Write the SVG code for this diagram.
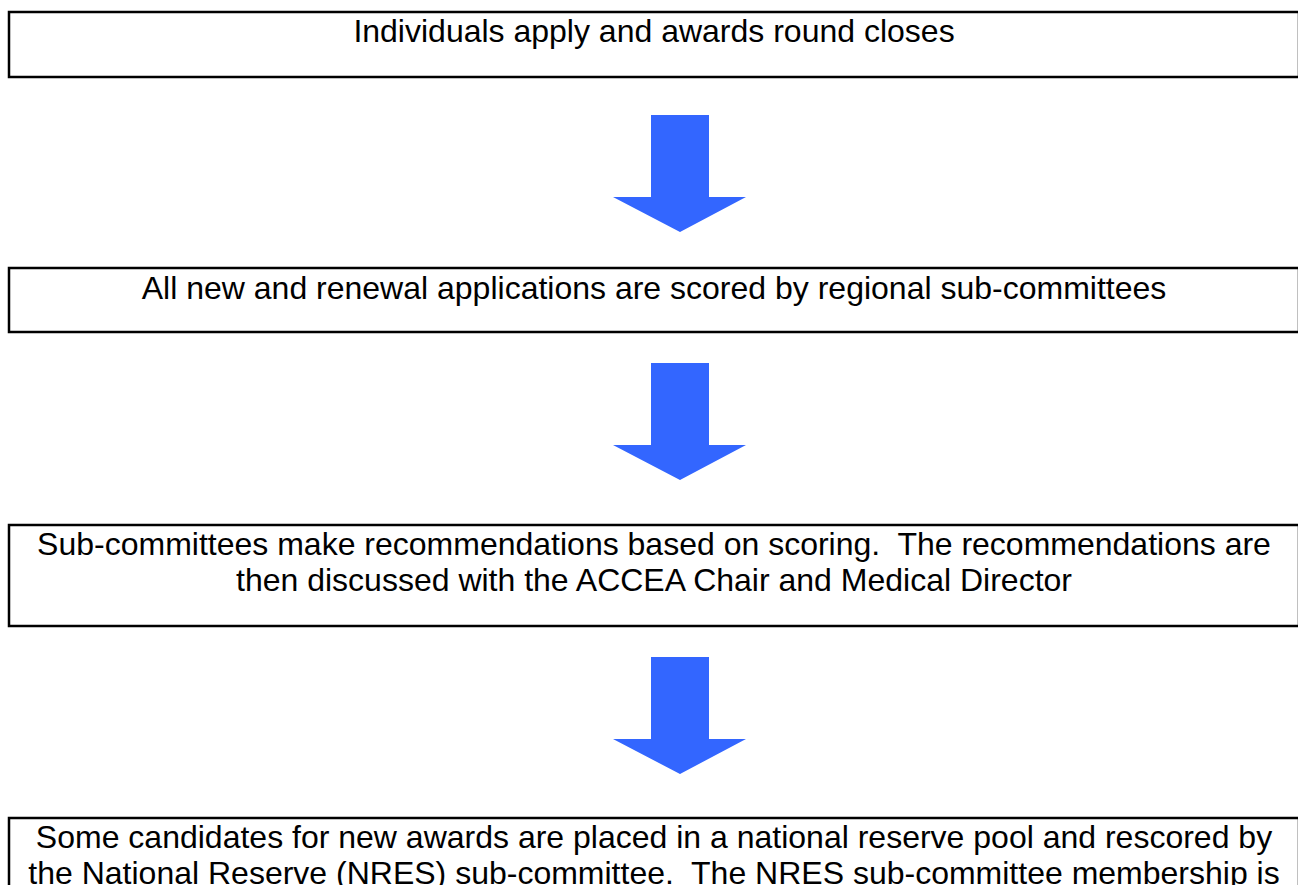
<svg xmlns="http://www.w3.org/2000/svg" width="1298" height="885" viewBox="0 0 1298 885">
<style>
.box{fill:#fff;stroke:#000;stroke-width:2.5}
.t{font-family:"Liberation Sans",Arial,sans-serif;font-size:32px;fill:#000;text-anchor:middle;white-space:pre}
.arr{fill:#3366FF}
</style>
<rect width="1298" height="885" fill="#fff"/>
<g id="connectors">
<polygon class="arr" points="651,115 709,115 709,197 746,197 680,232 613,197 651,197"/>
<polygon class="arr" points="651,363 709,363 709,445 746,445 680,480 613,445 651,445"/>
<polygon class="arr" points="651,657 709,657 709,739 746,739 680,774 613,739 651,739"/>
</g>
<g id="n1">
<rect class="box" x="9" y="12" width="1290" height="65"/>
<text class="t" x="654" y="42">Individuals apply and awards round closes</text>
</g>
<g id="n2">
<rect class="box" x="9" y="268" width="1290" height="64"/>
<text class="t" x="654" y="299">All new and renewal applications are scored by regional sub-committees</text>
</g>
<g id="n3">
<rect class="box" x="9" y="525" width="1290" height="101"/>
<text class="t" x="654" y="555" xml:space="preserve">Sub-committees make recommendations based on scoring.  The recommendations are</text>
<text class="t" x="654" y="591">then discussed with the ACCEA Chair and Medical Director</text>
</g>
<g id="n4">
<rect class="box" x="9" y="818" width="1290" height="100"/>
<text class="t" x="654" y="848" xml:space="preserve">Some candidates for new awards are placed in a national reserve pool and rescored by</text>
<text class="t" x="654" y="884" xml:space="preserve">the National Reserve (NRES) sub-committee.  The NRES sub-committee membership is</text>
</g>
</svg>
